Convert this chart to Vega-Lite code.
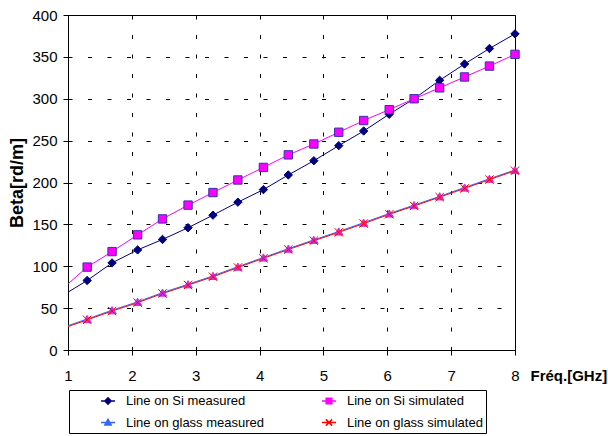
{
  "$schema": "https://vega.github.io/schema/vega-lite/v6.json",
  "width": 447,
  "height": 335,
  "autosize": {"type": "none"},
  "padding": {"left": 68, "top": 15, "right": 93, "bottom": 86},
  "background": "white",
  "config": {
    "font": "Liberation Sans",
    "view": {"stroke": "black", "strokeWidth": 1},
    "axis": {
      "domainColor": "black",
      "tickColor": "black",
      "gridColor": "black",
      "gridDash": [4, 15.5],
      "gridWidth": 1,
      "labelFont": "Liberation Sans",
      "labelFontSize": 15,
      "labelColor": "black",
      "titleColor": "black",
      "titleFont": "Liberation Sans",
      "tickSize": 5
    }
  },
  "data": {
    "values": [
      {"s": "Line on Si measured", "f": 1.0, "b": 69, "m": 0},
      {"s": "Line on Si measured", "f": 1.3, "b": 83, "m": 1},
      {"s": "Line on Si measured", "f": 1.69, "b": 104, "m": 1},
      {"s": "Line on Si measured", "f": 2.09, "b": 119.5, "m": 1},
      {"s": "Line on Si measured", "f": 2.48, "b": 132, "m": 1},
      {"s": "Line on Si measured", "f": 2.88, "b": 146, "m": 1},
      {"s": "Line on Si measured", "f": 3.27, "b": 161, "m": 1},
      {"s": "Line on Si measured", "f": 3.66, "b": 176.5, "m": 1},
      {"s": "Line on Si measured", "f": 4.06, "b": 191.5, "m": 1},
      {"s": "Line on Si measured", "f": 4.45, "b": 209, "m": 1},
      {"s": "Line on Si measured", "f": 4.85, "b": 226, "m": 1},
      {"s": "Line on Si measured", "f": 5.24, "b": 244, "m": 1},
      {"s": "Line on Si measured", "f": 5.63, "b": 261.5, "m": 1},
      {"s": "Line on Si measured", "f": 6.03, "b": 281.5, "m": 1},
      {"s": "Line on Si measured", "f": 6.42, "b": 300, "m": 1},
      {"s": "Line on Si measured", "f": 6.82, "b": 322, "m": 1},
      {"s": "Line on Si measured", "f": 7.21, "b": 341.5, "m": 1},
      {"s": "Line on Si measured", "f": 7.6, "b": 360, "m": 1},
      {"s": "Line on Si measured", "f": 8.0, "b": 377.5, "m": 1},
      {"s": "Line on Si simulated", "f": 1.0, "b": 79, "m": 0},
      {"s": "Line on Si simulated", "f": 1.3, "b": 99, "m": 1},
      {"s": "Line on Si simulated", "f": 1.69, "b": 117.5, "m": 1},
      {"s": "Line on Si simulated", "f": 2.09, "b": 137.5, "m": 1},
      {"s": "Line on Si simulated", "f": 2.48, "b": 156.5, "m": 1},
      {"s": "Line on Si simulated", "f": 2.88, "b": 173, "m": 1},
      {"s": "Line on Si simulated", "f": 3.27, "b": 188, "m": 1},
      {"s": "Line on Si simulated", "f": 3.66, "b": 203, "m": 1},
      {"s": "Line on Si simulated", "f": 4.06, "b": 218, "m": 1},
      {"s": "Line on Si simulated", "f": 4.45, "b": 233, "m": 1},
      {"s": "Line on Si simulated", "f": 4.85, "b": 246, "m": 1},
      {"s": "Line on Si simulated", "f": 5.24, "b": 260, "m": 1},
      {"s": "Line on Si simulated", "f": 5.63, "b": 274, "m": 1},
      {"s": "Line on Si simulated", "f": 6.03, "b": 287, "m": 1},
      {"s": "Line on Si simulated", "f": 6.42, "b": 300, "m": 1},
      {"s": "Line on Si simulated", "f": 6.82, "b": 313, "m": 1},
      {"s": "Line on Si simulated", "f": 7.21, "b": 326, "m": 1},
      {"s": "Line on Si simulated", "f": 7.6, "b": 339, "m": 1},
      {"s": "Line on Si simulated", "f": 8.0, "b": 353, "m": 1},
      {"s": "Line on glass measured", "f": 1.0, "b": 29, "m": 0},
      {"s": "Line on glass measured", "f": 1.3, "b": 37, "m": 1},
      {"s": "Line on glass measured", "f": 1.69, "b": 47.5, "m": 1},
      {"s": "Line on glass measured", "f": 2.09, "b": 57.5, "m": 1},
      {"s": "Line on glass measured", "f": 2.48, "b": 68.5, "m": 1},
      {"s": "Line on glass measured", "f": 2.88, "b": 78.5, "m": 1},
      {"s": "Line on glass measured", "f": 3.27, "b": 88.5, "m": 1},
      {"s": "Line on glass measured", "f": 3.66, "b": 99.5, "m": 1},
      {"s": "Line on glass measured", "f": 4.06, "b": 110.5, "m": 1},
      {"s": "Line on glass measured", "f": 4.45, "b": 121, "m": 1},
      {"s": "Line on glass measured", "f": 4.85, "b": 131.5, "m": 1},
      {"s": "Line on glass measured", "f": 5.24, "b": 141.5, "m": 1},
      {"s": "Line on glass measured", "f": 5.63, "b": 152, "m": 1},
      {"s": "Line on glass measured", "f": 6.03, "b": 163, "m": 1},
      {"s": "Line on glass measured", "f": 6.42, "b": 173, "m": 1},
      {"s": "Line on glass measured", "f": 6.82, "b": 183.5, "m": 1},
      {"s": "Line on glass measured", "f": 7.21, "b": 194, "m": 1},
      {"s": "Line on glass measured", "f": 7.6, "b": 204.5, "m": 1},
      {"s": "Line on glass measured", "f": 8.0, "b": 215, "m": 1},
      {"s": "Line on glass simulated", "f": 1.0, "b": 28, "m": 0},
      {"s": "Line on glass simulated", "f": 1.3, "b": 36, "m": 1},
      {"s": "Line on glass simulated", "f": 1.69, "b": 46.5, "m": 1},
      {"s": "Line on glass simulated", "f": 2.09, "b": 56.5, "m": 1},
      {"s": "Line on glass simulated", "f": 2.48, "b": 67.5, "m": 1},
      {"s": "Line on glass simulated", "f": 2.88, "b": 77.5, "m": 1},
      {"s": "Line on glass simulated", "f": 3.27, "b": 87.5, "m": 1},
      {"s": "Line on glass simulated", "f": 3.66, "b": 98.5, "m": 1},
      {"s": "Line on glass simulated", "f": 4.06, "b": 109.5, "m": 1},
      {"s": "Line on glass simulated", "f": 4.45, "b": 120, "m": 1},
      {"s": "Line on glass simulated", "f": 4.85, "b": 130.5, "m": 1},
      {"s": "Line on glass simulated", "f": 5.24, "b": 140.5, "m": 1},
      {"s": "Line on glass simulated", "f": 5.63, "b": 151, "m": 1},
      {"s": "Line on glass simulated", "f": 6.03, "b": 162, "m": 1},
      {"s": "Line on glass simulated", "f": 6.42, "b": 172, "m": 1},
      {"s": "Line on glass simulated", "f": 6.82, "b": 182.5, "m": 1},
      {"s": "Line on glass simulated", "f": 7.21, "b": 193, "m": 1},
      {"s": "Line on glass simulated", "f": 7.6, "b": 203.5, "m": 1},
      {"s": "Line on glass simulated", "f": 8.0, "b": 214, "m": 1}
    ]
  },
  "encoding": {
    "x": {
      "field": "f",
      "type": "quantitative",
      "scale": {"domain": [1, 8], "nice": false, "zero": false},
      "axis": {
        "values": [1, 2, 3, 4, 5, 6, 7, 8],
        "title": "Fréq.[GHz]",
        "titleFontSize": 15,
        "titleFontWeight": "bold",
        "titleX": 462,
        "titleY": 30,
        "titleAlign": "left",
        "titleBaseline": "alphabetic",
        "labelPadding": 13,
        "labelFlush": false
      }
    },
    "y": {
      "field": "b",
      "type": "quantitative",
      "scale": {"domain": [0, 400], "nice": false},
      "axis": {
        "values": [0, 50, 100, 150, 200, 250, 300, 350, 400],
        "title": "Beta[rd/m]",
        "titleFontSize": 18,
        "titleFontWeight": "bold",
        "titleX": -45.5,
        "titleY": 167.5,
        "titleAngle": -90,
        "titleAlign": "center",
        "titleBaseline": "alphabetic",
        "labelPadding": 6
      }
    }
  },
  "layer": [
    {
      "mark": {"type": "line", "strokeWidth": 1, "clip": true},
      "encoding": {
        "color": {
          "field": "s",
          "type": "nominal",
          "scale": {
            "domain": ["Line on Si measured", "Line on Si simulated", "Line on glass measured", "Line on glass simulated"],
            "range": ["#000080", "#FF00FF", "#3366FF", "#FF0000"]
          },
          "legend": null
        },
        "order": {"field": "f", "type": "quantitative"}
      }
    },
    {
      "transform": [{"filter": "datum.m == 1"}],
      "mark": {"type": "point", "filled": true, "size": 70, "strokeWidth": 1, "opacity": 1},
      "encoding": {
        "shape": {
          "field": "s",
          "type": "nominal",
          "scale": {
            "domain": ["Line on Si measured", "Line on Si simulated", "Line on glass measured", "Line on glass simulated"],
            "range": ["diamond", "square", "triangle-up", "M-1,-1L1,1M-1,1L1,-1"]
          },
          "legend": null
        },
        "fill": {
          "field": "s",
          "type": "nominal",
          "scale": {
            "domain": ["Line on Si measured", "Line on Si simulated", "Line on glass measured", "Line on glass simulated"],
            "range": ["#000080", "#FF00FF", "#CC33DD", "transparent"]
          },
          "legend": null
        },
        "stroke": {
          "field": "s",
          "type": "nominal",
          "scale": {
            "domain": ["Line on Si measured", "Line on Si simulated", "Line on glass measured", "Line on glass simulated"],
            "range": ["#000080", "#3333AA", "#CC33DD", "#FF0000"]
          },
          "legend": null
        }
      }
    },
    {
      "transform": [{"filter": "datum.m == 9"}],
      "mark": {"type": "point", "filled": true, "size": 196, "strokeWidth": 1.5, "opacity": 1},
      "encoding": {
        "shape": {
          "field": "s",
          "type": "nominal",
          "scale": {
            "domain": ["Line on Si measured", "Line on Si simulated", "Line on glass measured", "Line on glass simulated"],
            "range": [
              "M-1,0H1M0,-0.45L0.45,0L0,0.45L-0.45,0Z",
              "M-1,0H1M-0.4,-0.4H0.4V0.4H-0.4Z",
              "M-1,0H1M0,-0.45L0.45,0.35L-0.45,0.35Z",
              "M-1,0H1M-0.45,-0.45L0.45,0.45M-0.45,0.45L0.45,-0.45"
            ]
          },
          "legend": {
            "orient": "none", "legendX": 1, "legendY": 375, "columns": 2,
            "direction": "horizontal",
            "title": "MMM", "titleOrient": "left", "titleFontSize": 10, "titleColor": "transparent", "titlePadding": 3,
            "padding": 3, "rowPadding": 6.5, "columnPadding": 54, "labelOffset": 10,
            "labelFontSize": 13, "labelFont": "Liberation Sans", "labelColor": "black",
            "symbolSize": 196, "symbolStrokeWidth": 1.5,
            "strokeColor": "black", "fillColor": "white", "labelLimit": 300
          }
        },
        "fill": {
          "field": "s",
          "type": "nominal",
          "scale": {
            "domain": ["Line on Si measured", "Line on Si simulated", "Line on glass measured", "Line on glass simulated"],
            "range": ["#000080", "#FF00FF", "#3366FF", "transparent"]
          },
          "legend": {
            "orient": "none", "legendX": 1, "legendY": 375, "columns": 2,
            "direction": "horizontal",
            "title": "MMM", "titleOrient": "left", "titleFontSize": 10, "titleColor": "transparent", "titlePadding": 3,
            "padding": 3, "rowPadding": 6.5, "columnPadding": 54, "labelOffset": 10,
            "labelFontSize": 13, "labelFont": "Liberation Sans", "labelColor": "black",
            "symbolSize": 196, "symbolStrokeWidth": 1.5,
            "strokeColor": "black", "fillColor": "white", "labelLimit": 300
          }
        },
        "stroke": {
          "field": "s",
          "type": "nominal",
          "scale": {
            "domain": ["Line on Si measured", "Line on Si simulated", "Line on glass measured", "Line on glass simulated"],
            "range": ["#000080", "#FF00FF", "#3366FF", "#FF0000"]
          },
          "legend": {
            "orient": "none", "legendX": 1, "legendY": 375, "columns": 2,
            "direction": "horizontal",
            "title": "MMM", "titleOrient": "left", "titleFontSize": 10, "titleColor": "transparent", "titlePadding": 3,
            "padding": 3, "rowPadding": 6.5, "columnPadding": 54, "labelOffset": 10,
            "labelFontSize": 13, "labelFont": "Liberation Sans", "labelColor": "black",
            "symbolSize": 196, "symbolStrokeWidth": 1.5,
            "strokeColor": "black", "fillColor": "white", "labelLimit": 300
          }
        }
      }
    }
  ],
  "resolve": {
    "scale": {"color": "independent", "shape": "independent", "fill": "independent", "stroke": "independent"}
  }
}
